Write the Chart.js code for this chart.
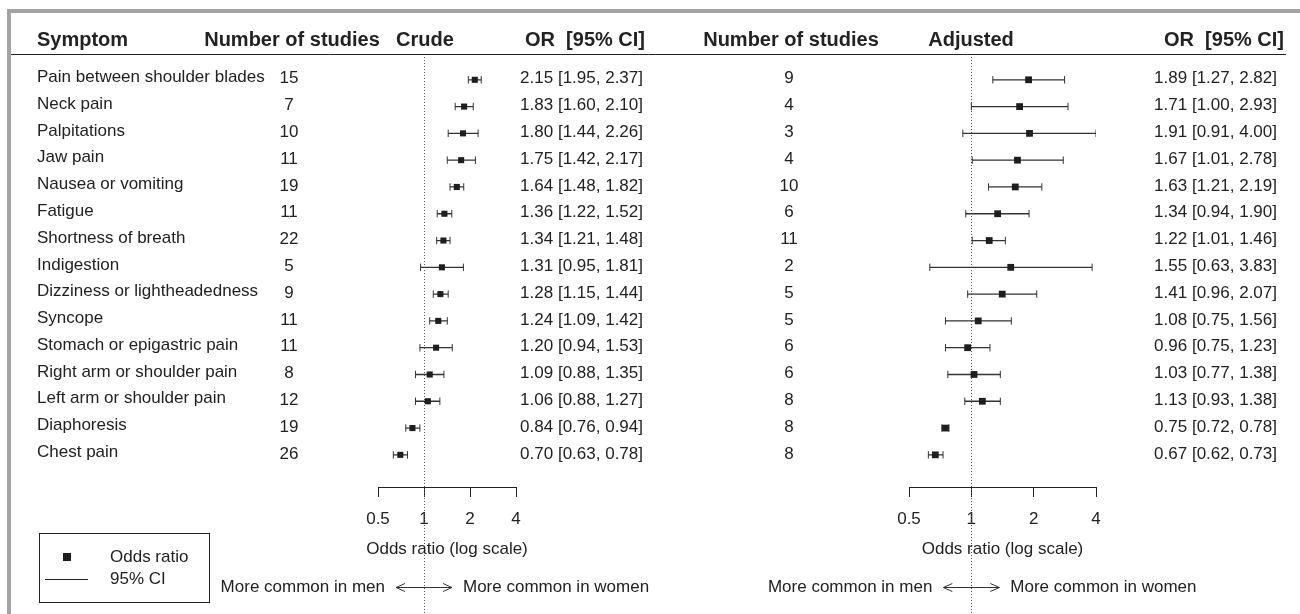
<!DOCTYPE html>
<html>
<head>
<meta charset="utf-8">
<script src="https://cdn.jsdelivr.net/npm/chart.js@4/dist/chart.umd.min.js"></script>
<style>
  html, body { margin: 0; padding: 0; background: #fff; }
  #page { position: relative; width: 1300px; height: 614px; overflow: hidden; }
  #frame { position: absolute; left: 7px; top: 9px; right: 0; bottom: 0;
           border-top: 4px solid #a3a3a3; border-left: 4px solid #a3a3a3; }
  canvas { position: absolute; left: 0; top: 0; }
</style>
</head>
<body>
<div id="page">
  <div id="frame"></div>
  <canvas id="crude" width="1300" height="614"></canvas>
  <canvas id="adjusted" width="1300" height="614"></canvas>
</div>
<script>
// Symptoms, top to bottom
const symptoms = [
  "Pain between shoulder blades", "Neck pain", "Palpitations", "Jaw pain",
  "Nausea or vomiting", "Fatigue", "Shortness of breath", "Indigestion",
  "Dizziness or lightheadedness", "Syncope", "Stomach or epigastric pain",
  "Right arm or shoulder pain", "Left arm or shoulder pain", "Diaphoresis", "Chest pain"
];

// Crude odds ratios (women vs men)
const crudeStudies = [15, 7, 10, 11, 19, 11, 22, 5, 9, 11, 11, 8, 12, 19, 26];
const crudeOR = [2.15, 1.83, 1.80, 1.75, 1.64, 1.36, 1.34, 1.31, 1.28, 1.24, 1.20, 1.09, 1.06, 0.84, 0.70];
const crudeLow = [1.95, 1.60, 1.44, 1.42, 1.48, 1.22, 1.21, 0.95, 1.15, 1.09, 0.94, 0.88, 0.88, 0.76, 0.63];
const crudeHigh = [2.37, 2.10, 2.26, 2.17, 1.82, 1.52, 1.48, 1.81, 1.44, 1.42, 1.53, 1.35, 1.27, 0.94, 0.78];

// Adjusted odds ratios
const adjStudies = [9, 4, 3, 4, 10, 6, 11, 2, 5, 5, 6, 6, 8, 8, 8];
const adjOR = [1.89, 1.71, 1.91, 1.67, 1.63, 1.34, 1.22, 1.55, 1.41, 1.08, 0.96, 1.03, 1.13, 0.75, 0.67];
const adjLow = [1.27, 1.00, 0.91, 1.01, 1.21, 0.94, 1.01, 0.63, 0.96, 0.75, 0.75, 0.77, 0.93, 0.72, 0.62];
const adjHigh = [2.82, 2.93, 4.00, 2.78, 2.19, 1.90, 1.46, 3.83, 2.07, 1.56, 1.23, 1.38, 1.38, 0.78, 0.73];

// Log-scale axis ticks
const tickValues = [0.5, 1, 2, 4];
const tickLabels = ["0.5", "1", "2", "4"];

const FONT = "'Liberation Sans', Arial, Helvetica, sans-serif";
const INK = "#222";

function fmt(v) { return v.toFixed(2); }

// CI segments joined into one line dataset, broken by gaps
function ciPoints(low, high) {
  const pts = [];
  low.forEach((lo, i) => {
    pts.push({ x: lo, y: i }, { x: high[i], y: i }, { x: lo, y: null });
  });
  return pts;
}

function text(ctx, s, x, y, align, font) {
  ctx.font = font;
  ctx.textAlign = align;
  ctx.textBaseline = "middle";
  ctx.fillStyle = INK;
  ctx.fillText(s, x, y);
}

function drawArrow(ctx, cx, y, half) {
  ctx.save();
  ctx.strokeStyle = "#333";
  ctx.lineWidth = 1;
  ctx.beginPath();
  ctx.moveTo(cx - half, y); ctx.lineTo(cx + half, y);
  ctx.moveTo(cx - half + 9, y - 4); ctx.lineTo(cx - half, y); ctx.lineTo(cx - half + 9, y + 4);
  ctx.moveTo(cx + half - 9, y - 4); ctx.lineTo(cx + half, y); ctx.lineTo(cx + half - 9, y + 4);
  ctx.stroke();
  ctx.restore();
}

// Table columns, headers and axis captions for one panel
function panelPlugin(p) {
  return {
    id: "forestText",
    beforeDatasetsDraw(chart) {
      const ctx = chart.ctx;
      const x1 = Math.round(chart.scales.x.getPixelForValue(1)) + 0.5;
      ctx.save();
      ctx.strokeStyle = "#555";
      ctx.lineWidth = 1;
      ctx.setLineDash([1, 2]);
      ctx.beginPath();
      ctx.moveTo(x1, 57);
      ctx.lineTo(x1, 614);
      ctx.stroke();
      ctx.restore();
    },
    afterDraw(chart) {
      const ctx = chart.ctx;
      const xs = chart.scales.x, ys = chart.scales.y;
      const head = "bold 20px " + FONT;
      const body = "17px " + FONT;
      ctx.save();
      // headers
      if (p.showSymptoms) text(ctx, "Symptom", 37, 40, "left", head);
      text(ctx, "Number of studies", p.nCol, 40, "center", head);
      text(ctx, p.title, p.titleX, 40, "center", head);
      text(ctx, "OR  [95% CI]", p.headRight, 40, "right", head);
      if (p.showSymptoms) {
        ctx.strokeStyle = INK;
        ctx.lineWidth = 1;
        ctx.beginPath();
        ctx.moveTo(11, 54.5); ctx.lineTo(1286, 54.5);
        ctx.stroke();
      }
      // rows
      symptoms.forEach((s, i) => {
        const y = ys.getPixelForValue(i);
        if (p.showSymptoms) text(ctx, s, 37, y - 2.5, "left", body);
        text(ctx, String(p.studies[i]), p.nColNum, y - 1, "center", body);
        text(ctx, fmt(p.or[i]) + " [" + fmt(p.low[i]) + ", " + fmt(p.high[i]) + "]",
             p.orRight, y - 1, "right", body);
      });
      // axis caption and direction
      const mid = (xs.left + xs.right) / 2;
      text(ctx, "Odds ratio (log scale)", mid, 549, "center", body);
      const x1 = xs.getPixelForValue(1);
      drawArrow(ctx, x1, 587.5, 28);
      text(ctx, "More common in men", x1 - 39, 587, "right", body);
      text(ctx, "More common in women", x1 + 39, 587, "left", body);
      // legend
      if (p.showSymptoms) {
        ctx.strokeStyle = INK;
        ctx.lineWidth = 1;
        ctx.strokeRect(39.5, 533.5, 170, 69);
        ctx.fillStyle = "#1e1e1e";
        ctx.fillRect(63, 553, 8, 8);
        ctx.beginPath();
        ctx.moveTo(45, 579.5); ctx.lineTo(88, 579.5);
        ctx.stroke();
        text(ctx, "Odds ratio", 110, 557, "left", body);
        text(ctx, "95% CI", 110, 579, "left", body);
      }
      ctx.restore();
    }
  };
}

function makeChart(id, p) {
  return new Chart(document.getElementById(id), {
    data: {
      datasets: [
        {
          type: "scatter",
          data: p.or.map((v, i) => ({ x: v, y: i })),
          pointStyle: "rect",
          pointRadius: p.box,
          pointHoverRadius: p.box,
          backgroundColor: "#1e1e1e",
          borderWidth: 0,
          order: 0
        },
        {
          type: "scatter",
          data: ciPoints(p.low, p.high),
          showLine: true,
          spanGaps: false,
          borderColor: "#333",
          borderWidth: 1.3,
          pointStyle: "line",
          pointRotation: 90,
          pointRadius: 3.7,
          pointHoverRadius: 3.7,
          pointBorderColor: "#333",
          pointBorderWidth: 1,
          order: 1
        }
      ]
    },
    options: {
      responsive: false,
      animation: false,
      events: [],
      layout: { padding: { left: p.left, right: 1300 - p.right, top: 53, bottom: 0 } },
      plugins: { legend: { display: false }, tooltip: { enabled: false } },
      scales: {
        x: {
          type: "logarithmic",
          min: 0.5, max: 4,
          position: "bottom",
          afterBuildTicks: s => { s.ticks = tickValues.map(v => ({ value: v })); },
          afterFit: s => { s.height = 127; },
          ticks: {
            callback: v => tickLabels[tickValues.indexOf(v)],
            color: INK,
            font: { family: FONT, size: 17 },
            padding: 12,
            autoSkip: false,
            maxRotation: 0
          },
          grid: { drawOnChartArea: false, drawTicks: true, tickLength: 10, color: INK, lineWidth: 1 },
          border: { display: true, color: INK, width: 1 }
        },
        y: { type: "linear", min: -1, max: 15.2, reverse: true, display: false }
      }
    },
    plugins: [panelPlugin(p)]
  });
}

makeChart("crude", {
  left: 378, right: 516, box: 4.3,
  or: crudeOR, low: crudeLow, high: crudeHigh, studies: crudeStudies,
  showSymptoms: true, title: "Crude", titleX: 425,
  nCol: 292, nColNum: 289, orRight: 643, headRight: 645
});

makeChart("adjusted", {
  left: 909, right: 1096, box: 4.8,
  or: adjOR, low: adjLow, high: adjHigh, studies: adjStudies,
  showSymptoms: false, title: "Adjusted", titleX: 971,
  nCol: 791, nColNum: 789, orRight: 1277, headRight: 1284
});
</script>
</body>
</html>
